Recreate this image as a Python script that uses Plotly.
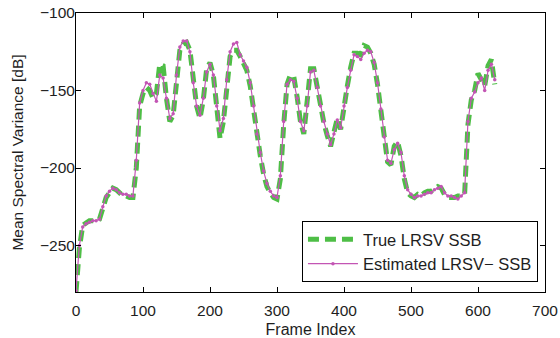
import plotly.graph_objects as go

frames = list(range(0, 630, 5))

estimated = [
    -279, -250, -238, -236, -235, -234, -234, -233, -225, -218,
    -215, -213, -214, -216, -217, -217, -218, -218, -195, -158,
    -150, -145, -146, -152, -157, -140, -142, -155, -168, -165,
    -140, -122, -118, -118, -125, -145, -160, -166, -155, -138,
    -133, -140, -160, -176, -168, -143, -125, -120, -119, -127,
    -131, -135, -145, -160, -178, -190, -202, -210, -215, -218,
    -219, -205, -170, -146, -143, -144, -155, -170, -176, -160,
    -138, -137, -148, -160, -170, -178, -185, -178, -169, -174,
    -160, -148, -137, -127, -128, -130, -126, -124, -125, -132,
    -145, -162, -180, -195, -197, -188, -184, -190, -205, -214,
    -217, -219, -218, -218, -217, -216, -216, -214, -213, -212,
    -216, -218, -218, -219, -220, -218, -216, -170, -155, -151,
    -145, -142, -150, -137, -133, -143,
]

true_vals = [
    -280, -252, -237, -235, -234, -234, -234, -233, -226, -219,
    -216, -213, -214, -216, -218, -218, -219, -219, -200, -160,
    -152, -148, -150, -155, -152, -133, -134, -155, -170, -166,
    -142, -124, -120, -119, -124, -143, -160, -168, -156, -136,
    -132, -140, -162, -181, -170, -146, -128, -124, -124, -128,
    -132, -137, -147, -162, -180, -192, -204, -212, -216, -219,
    -220, -207, -172, -146, -140, -141, -154, -170, -178, -160,
    -136, -136, -149, -161, -171, -179, -186, -177, -168, -175,
    -158, -147, -135, -126, -126, -127, -121, -122, -126, -133,
    -146, -164, -182, -196, -198, -186, -183, -192, -207, -216,
    -218, -219, -217, -218, -216, -215, -215, -213, -212, -213,
    -217, -219, -219, -219, -218, -218, -217, -172, -156, -150,
    -139, -143, -147, -134, -130, -146,
]

x_ticks = [0, 100, 200, 300, 400, 500, 600, 700]
y_ticks = [-250, -200, -150, -100]

FONT = "Liberation Sans, Arial, sans-serif"

fig = go.Figure()
fig.add_trace(go.Scatter(
    x=frames, y=true_vals, mode="lines", name="True LRSV SSB",
    line=dict(color="rgb(78,190,70)", width=5, dash="11px,6px"),
))
fig.add_trace(go.Scatter(
    x=frames, y=estimated, mode="lines+markers", name="Estimated LRSV− SSB",
    line=dict(color="rgb(195,85,180)", width=1.2),
    marker=dict(color="rgb(195,85,180)", size=3.5),
))

axis_common = dict(
    showline=True, linecolor="black", linewidth=1, mirror="ticks",
    ticks="inside", ticklen=5, tickcolor="black", showgrid=False, zeroline=False,
    automargin=False, ticklabeloverflow="allow",
    tickfont=dict(family=FONT, size=15.5, color="rgb(30,30,30)"),
)

fig.update_layout(
    width=560, height=338,
    margin=dict(l=76, r=15, t=13, b=46),
    paper_bgcolor="white", plot_bgcolor="white",
    font=dict(family=FONT, size=15, color="rgb(30,30,30)"),
    xaxis=dict(range=[0, 700], tickvals=x_ticks, ticklabelstandoff=4,
               title=dict(text="Frame Index", font=dict(size=16), standoff=6),
               **axis_common),
    yaxis=dict(range=[-280, -100], tickvals=y_ticks, ticklabelstandoff=-3,
               title=dict(text="Mean Spectral Variance [dB]", font=dict(size=15.5), standoff=12),
               **axis_common),
    legend=dict(x=0.985, y=0.036, xanchor="right", yanchor="bottom",
                bordercolor="black", borderwidth=1, bgcolor="white",
                font=dict(size=16.5), itemwidth=50, tracegroupgap=2),
    showlegend=True,
)

# remove the page's default body margin so the figure sits at the window's corner
fig.write_html("out.html", config={"displayModeBar": False},
               post_script="document.body.style.margin='0';")
